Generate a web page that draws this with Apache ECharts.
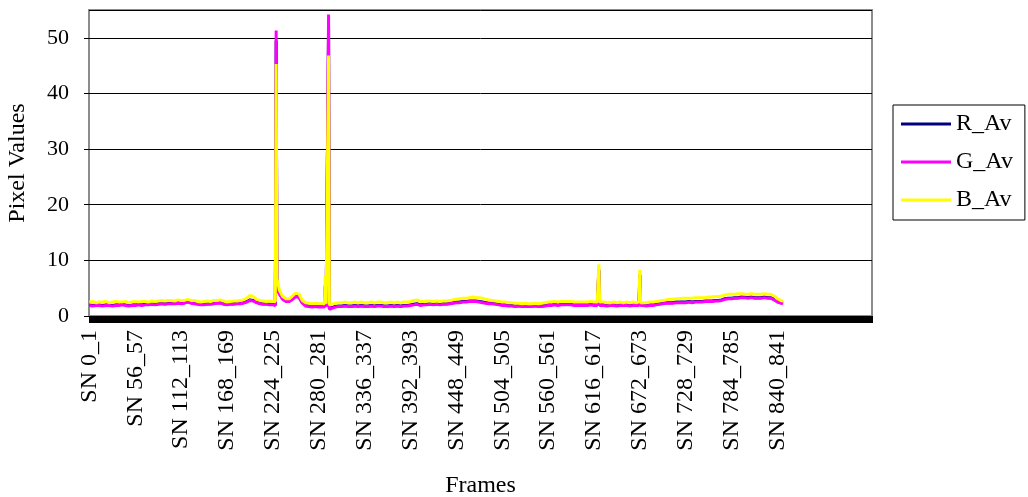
<!DOCTYPE html>
<html>
<head>
<meta charset="utf-8">
<script src="https://cdn.jsdelivr.net/npm/echarts@6/dist/echarts.min.js"></script>
<style>
html,body{margin:0;padding:0;background:#fff;}
#chart{width:1028px;height:497px;}
</style>
</head>
<body>
<div id="chart"></div>
<script>
// Number of frame slots on the category axis (named ones + blank tail)
const frameCount = 956;
const namedFrames = 848;

// Tick labels shown on the x axis (every 56th frame)
const tickLabels = ['SN 0_1','SN 56_57','SN 112_113','SN 168_169','SN 224_225','SN 280_281','SN 336_337','SN 392_393','SN 448_449','SN 504_505','SN 560_561','SN 616_617','SN 672_673','SN 728_729','SN 784_785','SN 840_841'];

// Frame indices at which values were read
const frameIdx = [
 0,4,8,12,16,20,24,28,32,36,40,44,48,52,56,60,64,68,72,76,80,84,88,92,96,100,104,108,112,116,
 120,124,128,132,136,140,144,148,152,156,160,164,168,172,176,180,184,188,192,196,200,204,208,212,216,220,224,
 227,228,229,
 232,236,240,244,248,252,256,260,264,268,272,276,280,284,
 287,288,289,291,292,293,
 296,300,304,308,312,316,320,324,328,332,336,340,344,348,352,356,360,364,368,372,
 376,380,384,388,392,396,400,404,408,412,416,420,424,428,432,436,440,444,448,452,
 456,460,464,468,472,476,480,484,488,492,496,500,504,508,512,516,520,524,528,532,
 536,540,544,548,552,556,560,564,568,572,576,580,584,588,592,596,600,604,608,612,616,620,
 621,622,623,
 624,628,632,636,640,644,648,652,656,660,664,668,
 671,672,673,
 676,680,684,688,692,696,700,704,708,712,716,720,724,728,732,736,740,744,748,752,
 756,760,764,768,772,776,780,784,788,792,796,800,804,808,812,816,820,824,828,832,
 836,840,844,847
];

const rAv = [
 2.0,1.9,2.0,2.0,1.9,2.0,2.0,1.9,2.0,2.0,2.1,2.0,1.9,2.0,2.0,2.1,2.0,2.1,2.1,2.2,
 2.1,2.2,2.3,2.2,2.3,2.3,2.3,2.4,2.3,2.4,2.6,2.4,2.3,2.2,2.1,2.1,2.2,2.2,2.3,2.4,
 2.4,2.2,2.1,2.2,2.2,2.3,2.3,2.4,2.6,2.9,2.8,2.5,2.3,2.2,2.2,2.1,2.1,
 2.0,49.5,5.5,
 4.0,3.1,2.7,2.7,3.1,3.6,3.4,2.4,1.9,1.8,1.7,1.8,1.7,1.7,
 1.7,5.4,1.7,1.7,52.0,1.3,
 1.5,1.7,1.8,1.8,1.9,1.8,1.8,1.9,1.8,1.9,1.8,1.8,1.9,1.8,1.9,1.9,1.8,1.8,1.9,1.8,
 1.9,1.8,1.9,1.9,2.0,2.1,2.2,2.0,2.1,2.1,2.2,2.1,2.2,2.1,2.2,2.2,2.3,2.4,2.5,2.5,
 2.6,2.6,2.7,2.7,2.7,2.6,2.5,2.4,2.3,2.3,2.2,2.1,2.0,2.0,1.9,1.9,1.8,1.9,1.8,1.8,
 1.8,1.8,1.9,1.8,1.8,1.9,2.0,2.0,2.1,2.0,2.1,2.1,2.1,2.1,2.0,2.0,2.0,2.0,2.0,2.1,2.0,2.0,
 2.0,8.2,2.0,
 2.0,2.0,1.9,2.0,2.0,1.9,2.0,2.0,2.0,1.9,2.0,2.0,
 2.0,7.3,2.0,
 2.0,1.9,2.0,2.0,2.1,2.2,2.3,2.4,2.4,2.4,2.5,2.5,2.5,2.5,2.6,2.5,2.6,2.6,2.6,2.7,
 2.7,2.7,2.8,2.8,2.9,3.1,3.2,3.2,3.3,3.3,3.4,3.4,3.3,3.4,3.3,3.3,3.3,3.4,3.3,3.3,
 3.0,2.6,2.4,2.4
];

const gAv = [
 1.9,1.8,1.9,1.9,1.8,1.9,1.9,1.8,1.9,1.9,2.0,1.9,1.8,1.9,1.9,2.0,1.9,2.0,2.0,2.1,
 2.0,2.1,2.2,2.1,2.2,2.2,2.2,2.3,2.2,2.3,2.5,2.3,2.2,2.1,2.0,2.0,2.1,2.1,2.2,2.3,
 2.3,2.1,2.0,2.1,2.1,2.2,2.2,2.3,2.5,2.8,2.7,2.4,2.2,2.1,2.1,2.0,2.0,
 1.9,51.3,5.3,
 3.9,3.0,2.6,2.6,3.0,3.5,3.3,2.3,1.8,1.7,1.6,1.7,1.6,1.6,
 1.6,5.5,1.6,1.6,54.2,1.2,
 1.4,1.6,1.7,1.7,1.8,1.7,1.7,1.8,1.7,1.8,1.7,1.7,1.8,1.7,1.8,1.8,1.7,1.7,1.8,1.7,
 1.8,1.7,1.8,1.8,1.9,2.0,2.1,1.9,2.0,2.0,2.1,2.0,2.1,2.0,2.1,2.1,2.2,2.3,2.4,2.4,
 2.5,2.5,2.6,2.6,2.6,2.5,2.4,2.3,2.2,2.2,2.1,2.0,1.9,1.9,1.8,1.8,1.7,1.8,1.7,1.7,
 1.7,1.7,1.8,1.7,1.7,1.8,1.9,1.9,2.0,1.9,2.0,2.0,2.0,2.0,1.9,1.9,1.9,1.9,1.9,2.0,1.9,1.9,
 1.9,8.4,1.9,
 1.9,1.9,1.8,1.9,1.9,1.8,1.9,1.9,1.9,1.8,1.9,1.9,
 1.9,7.5,1.9,
 1.9,1.8,1.9,1.9,2.0,2.1,2.2,2.3,2.3,2.3,2.4,2.4,2.4,2.4,2.5,2.4,2.5,2.5,2.5,2.6,
 2.6,2.6,2.7,2.7,2.8,3.0,3.1,3.1,3.2,3.2,3.3,3.3,3.2,3.3,3.2,3.2,3.2,3.3,3.2,3.2,
 2.9,2.5,2.3,2.3
];

const bAv = [
 2.5,2.6,2.4,2.5,2.5,2.6,2.4,2.5,2.6,2.5,2.5,2.6,2.4,2.5,2.6,2.5,2.6,2.6,2.5,2.7,
 2.6,2.7,2.8,2.7,2.8,2.8,2.7,2.9,2.8,2.8,3.0,2.8,2.8,2.6,2.5,2.6,2.7,2.6,2.8,2.8,
 2.9,2.7,2.5,2.6,2.7,2.7,2.8,2.9,3.2,3.7,3.5,3.0,2.8,2.7,2.6,2.7,2.6,
 2.6,45.3,6.7,
 4.6,3.5,3.1,3.1,3.6,4.1,3.9,2.8,2.4,2.3,2.2,2.3,2.2,2.2,
 2.2,7.3,2.2,2.1,46.8,2.0,
 2.1,2.3,2.4,2.4,2.5,2.4,2.4,2.5,2.4,2.5,2.4,2.4,2.5,2.4,2.5,2.5,2.4,2.4,2.5,2.4,
 2.5,2.4,2.5,2.5,2.6,2.8,2.9,2.6,2.6,2.7,2.7,2.6,2.7,2.6,2.7,2.7,2.8,2.9,3.0,3.1,
 3.2,3.2,3.3,3.4,3.3,3.3,3.2,3.0,2.9,2.8,2.7,2.6,2.5,2.5,2.4,2.4,2.3,2.3,2.2,2.3,
 2.2,2.2,2.3,2.2,2.3,2.4,2.5,2.5,2.6,2.5,2.6,2.6,2.6,2.6,2.5,2.5,2.5,2.5,2.5,2.6,2.5,2.5,
 2.5,9.3,2.5,
 2.4,2.5,2.4,2.4,2.5,2.4,2.5,2.4,2.5,2.4,2.5,2.4,
 2.5,8.3,2.4,
 2.4,2.4,2.5,2.5,2.6,2.7,2.8,2.9,3.0,3.0,3.1,3.1,3.2,3.2,3.2,3.2,3.3,3.3,3.3,3.3,
 3.4,3.4,3.5,3.5,3.6,3.8,3.9,3.9,3.9,4.0,4.0,3.9,3.9,4.0,3.9,3.9,3.9,4.0,3.9,3.9,
 3.6,3.1,2.8,2.7
];

const seriesNames = ['R_Av','G_Av','B_Av'];
const seriesColors = ['#000080','#FF00FF','#FFFF00'];

const categories = [];
for (let i = 0; i < frameCount; i++) {
  categories.push(i < namedFrames ? 'SN ' + i + '_' + (i + 1) : '');
}
const tickSet = new Set(tickLabels);

const FONT = 'Liberation Serif';
const chart = echarts.init(document.getElementById('chart'), null, {renderer: 'canvas'});
const mk = (vals) => frameIdx.map((x, k) => [x, vals[k]]);

chart.setOption({
  animation: false,
  backgroundColor: '#ffffff',
  textStyle: {fontFamily: FONT, color: '#000'},
  grid: {left: 89, right: 156, top: 10, bottom: 181, containLabel: false, outerBoundsMode: 'none',
         show: true, borderColor: '#8c8c8c', borderWidth: 2, backgroundColor: '#fff'},
  legend: {
    orient: 'vertical', left: 893, top: 105,
    padding: [7, 12, 8, 8],
    itemWidth: 50, itemHeight: 3, itemGap: 14,
    icon: 'rect',
    borderColor: '#000', borderWidth: 1,
    textStyle: {fontFamily: FONT, fontSize: 24, color: '#000', lineHeight: 24, padding: [0,0,0,0]},
    data: seriesNames
  },
  xAxis: {
    type: 'category',
    data: categories,
    boundaryGap: true,
    name: 'Frames', nameLocation: 'middle', nameGap: 158,
    nameTextStyle: {fontFamily: FONT, fontSize: 24, color: '#000'},
    axisLine: {show: true, lineStyle: {color: '#8c8c8c', width: 1}},
    axisTick: {show: true, interval: 0, length: 7, lineStyle: {color: '#000', width: 1}},
    axisLabel: {
      interval: 55, rotate: 90, margin: 14,
      fontFamily: FONT, fontSize: 24, color: '#000',
      formatter: (v) => tickSet.has(v) ? v : ''
    },
    splitLine: {show: false}
  },
  yAxis: {
    type: 'value', min: 0, max: 55, interval: 10,
    name: 'Pixel Values', nameLocation: 'middle', nameGap: 59, nameRotate: 90,
    nameTextStyle: {fontFamily: FONT, fontSize: 24, color: '#000'},
    axisLine: {show: false},
    axisTick: {show: true, length: 5, lineStyle: {color: '#000'}},
    axisLabel: {fontFamily: FONT, fontSize: 22, color: '#000', margin: 20, showMaxLabel: false},
    splitLine: {show: true, lineStyle: {color: '#000', width: 1}}
  },
  series: [rAv, gAv, bAv].map((vals, k) => ({
    type: 'line',
    name: seriesNames[k],
    data: mk(vals),
    showSymbol: false,
    symbol: 'none',
    lineStyle: {color: seriesColors[k], width: 3},
    itemStyle: {color: seriesColors[k]},
    z: 2 + k
  }))
});
</script>
</body>
</html>
